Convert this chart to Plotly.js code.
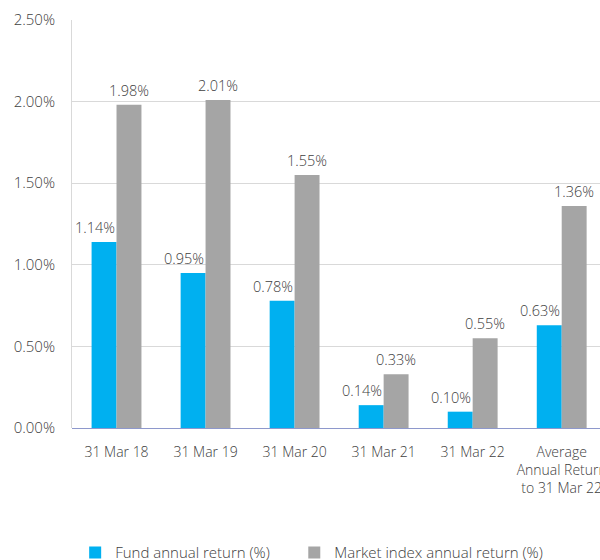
<!DOCTYPE html>
<html>
<head>
<meta charset="utf-8">
<script src="https://cdn.plot.ly/plotly-3.0.1.min.js"></script>
<style>
html,body{margin:0;padding:0;overflow:hidden;background:#fff;}
#chart{width:600px;height:560px;}
</style>
</head>
<body>
<div id="chart"></div>
<script>
const categories = ["31 Mar 18", "31 Mar 19", "31 Mar 20", "31 Mar 21", "31 Mar 22", "Average<br>Annual Return<br>to 31 Mar 22"];
const fundReturn = [1.14, 0.95, 0.78, 0.14, 0.10, 0.63];
const marketReturn = [1.98, 2.01, 1.55, 0.33, 0.55, 1.36];
const seriesNames = ["Fund annual return (%)", "Market index annual return (%)"];
const yTickVals = [0, 0.5, 1.0, 1.5, 2.0, 2.5];

const fontFamily = '"Open Sans", sans-serif';
const textColor = '#404040';
const labelFont = {family: fontFamily, size: 14.5, color: textColor, weight: 300};

const traces = [
  {
    type: 'bar', name: seriesNames[0] + '\u00A0\u00A0\u00A0\u00A0\u00A0', x: categories, y: fundReturn,
    marker: {color: '#00B0F0'}, hoverinfo: 'skip'
  },
  {
    type: 'bar', name: seriesNames[1], x: categories, y: marketReturn,
    marker: {color: '#A5A5A5'}, hoverinfo: 'skip'
  }
];

const annotations = [];
categories.forEach((c, i) => {
  annotations.push({
    x: c, y: fundReturn[i], xref: 'x', yref: 'y',
    text: fundReturn[i].toFixed(2) + '%', showarrow: false,
    xanchor: 'center', yanchor: 'bottom', xshift: -22, yshift: 3,
    font: labelFont
  });
  annotations.push({
    x: c, y: marketReturn[i], xref: 'x', yref: 'y',
    text: marketReturn[i].toFixed(2) + '%', showarrow: false,
    xanchor: 'center', yanchor: 'bottom', xshift: 12.5, yshift: 3,
    font: labelFont
  });
});

const layout = {
  width: 600, height: 560,
  margin: {l: 72, r: 0, t: 20, b: 132, pad: 0, autoexpand: false},
  paper_bgcolor: '#fff', plot_bgcolor: '#fff',
  font: {family: fontFamily, size: 14, color: textColor, weight: 300},
  barmode: 'group', bargap: 0.44, bargroupgap: 0,
  showlegend: true,
  annotations: annotations,
  legend: {
    orientation: 'h', x: 0.006, xanchor: 'left', y: -0.306, yanchor: 'middle',
    font: {family: fontFamily, size: 15, color: textColor, weight: 300},
    itemwidth: 30, traceorder: 'normal'
  },
  xaxis: {
    type: 'category', range: [-0.5, 5.43],
    showgrid: false, zeroline: false,
    showline: false, ticks: '', ticklabelstandoff: 14,
    tickfont: {family: fontFamily, size: 14, color: textColor, weight: 300},
    automargin: false
  },
  yaxis: {
    range: [0, 2.5], tickvals: yTickVals,
    ticktext: yTickVals.map(v => v.toFixed(2) + '%'),
    showgrid: true, gridcolor: '#D9D9D9', gridwidth: 1,
    zeroline: true, zerolinecolor: '#8E98CC', zerolinewidth: 1,
    showline: true, linecolor: '#D9D9D9', linewidth: 1,
    ticks: '', ticklen: 0, ticklabelstandoff: 13,
    tickfont: {family: fontFamily, size: 15, color: textColor, weight: 300},
    automargin: false
  }
};

Plotly.newPlot('chart', traces, layout, {displayModeBar: false, staticPlot: true});
</script>
</body>
</html>
